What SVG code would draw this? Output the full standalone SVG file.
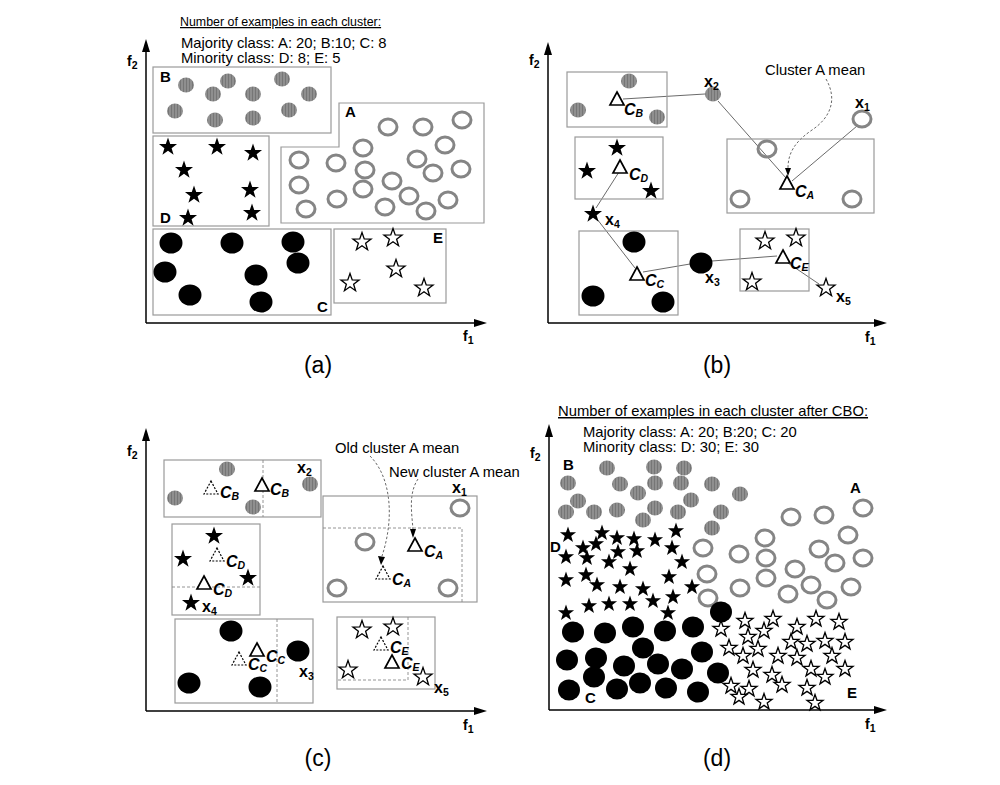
<svg xmlns="http://www.w3.org/2000/svg" xmlns:xlink="http://www.w3.org/1999/xlink" width="1000" height="785" viewBox="0 0 1000 785">
<style>
text{font-family:"Liberation Sans",Arial,sans-serif;fill:#000}
.t{font-size:14.8px}
.ttl{font-size:14.8px;text-decoration:underline}
.ttla{font-size:12.4px;text-decoration:underline}
.cap{font-size:23px}
.lab{font-size:15px;font-weight:bold}
.fl{font-size:14px;font-weight:bold}
.xl{font-size:16px;font-weight:bold}
.cl{font-size:16px;font-weight:bold;font-style:italic}
.sb{font-size:10.5px}
.g{fill:url(#stripe)}
.r{fill:none;stroke:#858585;stroke-width:3}
.k{fill:#000}
.sf{fill:#000}
.sh{fill:#fff;stroke:#000;stroke-width:1.3;stroke-linejoin:miter}
.box{fill:none;stroke:#9a9a9a;stroke-width:1.2}
.dl{fill:none;stroke:#888;stroke-width:0.9;stroke-dasharray:3 2}
.ax{stroke:#000;stroke-width:1.5;fill:none}
.ah{fill:#000}
.tri{fill:#fff;stroke:#000;stroke-width:1.7;stroke-linejoin:miter}
.trd{fill:#fff;stroke:#000;stroke-width:1.2;stroke-dasharray:2 1.5}
.ln{stroke:#444;stroke-width:0.8;fill:none}
.da{stroke:#555;stroke-width:0.9;fill:none;stroke-dasharray:2.5 2}
</style>
<defs>
<pattern id="stripe" width="3" height="10" patternUnits="userSpaceOnUse"><rect width="3" height="10" fill="#8f8f8f"/><rect width="1" height="10" fill="#767676"/></pattern>
<path id="st" d="M0,-9.5 L2.23,-3.07 9.03,-2.94 3.61,1.17 5.58,7.69 0,3.8 -5.58,7.69 -3.61,1.17 -9.03,-2.94 -2.23,-3.07Z"/>
<path id="st8" d="M0,-8.5 L2,-2.75 8.08,-2.63 3.23,1.05 5,6.88 0,3.4 -5,6.88 -3.23,1.05 -8.08,-2.63 -2,-2.75Z"/>
<path id="tri" d="M0,-7 L7,6 -7,6Z"/>
</defs>
<rect width="1000" height="785" fill="#fff"/>

<!-- ================= PANEL A ================= -->
<g id="panel-a">
<g id="a-axes">
<line class="ax" x1="146" y1="323" x2="146" y2="50"/><polygon class="ah" points="146,39 142,52 150,52"/>
<line class="ax" x1="146" y1="323" x2="476" y2="323"/><polygon class="ah" points="487,323 474,319 474,327"/>
<text class="fl" x="127" y="66">f<tspan class="sb" dy="3">2</tspan></text>
<text class="fl" x="463" y="341">f<tspan class="sb" dy="3">1</tspan></text>
</g>
<text class="ttla" x="180" y="26">Number of examples in each cluster:</text>
<text class="t" x="181" y="48">Majority class: A: 20; B:10; C: 8</text>
<text class="t" x="181" y="63">Minority class: D: 8; E: 5</text>
<g id="a-B">
<rect class="box" x="153" y="67" width="178" height="66"/>
<text class="lab" x="160" y="82">B</text>
<ellipse class="g" cx="186" cy="85" rx="8" ry="7.5"/><ellipse class="g" cx="228" cy="81" rx="8" ry="7.5"/>
<ellipse class="g" cx="213" cy="94" rx="8" ry="7.5"/><ellipse class="g" cx="253" cy="94" rx="8" ry="7.5"/>
<ellipse class="g" cx="282" cy="79" rx="8" ry="7.5"/><ellipse class="g" cx="309" cy="94" rx="8" ry="7.5"/>
<ellipse class="g" cx="175" cy="111" rx="8" ry="7.5"/><ellipse class="g" cx="215" cy="120" rx="8" ry="7.5"/>
<ellipse class="g" cx="253" cy="118" rx="8" ry="7.5"/><ellipse class="g" cx="289" cy="110" rx="8" ry="7.5"/>
</g>
<g id="a-A">
<polygon class="box" points="281,223 281,147 339,147 339,103 484,103 484,223"/>
<text class="lab" x="345" y="117">A</text>
<ellipse class="r" cx="388" cy="127" rx="9" ry="8"/><ellipse class="r" cx="423" cy="127" rx="9" ry="8"/>
<ellipse class="r" cx="462" cy="120" rx="9" ry="8"/><ellipse class="r" cx="363" cy="148" rx="9" ry="8"/>
<ellipse class="r" cx="445" cy="145" rx="9" ry="8"/><ellipse class="r" cx="299" cy="160" rx="9" ry="8"/>
<ellipse class="r" cx="336" cy="163" rx="9" ry="8"/><ellipse class="r" cx="365" cy="170" rx="9" ry="8"/>
<ellipse class="r" cx="417" cy="159" rx="9" ry="8"/><ellipse class="r" cx="433" cy="173" rx="9" ry="8"/>
<ellipse class="r" cx="461" cy="169" rx="9" ry="8"/><ellipse class="r" cx="299" cy="185" rx="9" ry="8"/>
<ellipse class="r" cx="363" cy="189" rx="9" ry="8"/><ellipse class="r" cx="392" cy="181" rx="9" ry="8"/>
<ellipse class="r" cx="409" cy="196" rx="9" ry="8"/><ellipse class="r" cx="448" cy="200" rx="9" ry="8"/>
<ellipse class="r" cx="306" cy="209" rx="9" ry="8"/><ellipse class="r" cx="337" cy="199" rx="9" ry="8"/>
<ellipse class="r" cx="385" cy="207" rx="9" ry="8"/><ellipse class="r" cx="426" cy="211" rx="9" ry="8"/>
</g>
<g id="a-D">
<rect class="box" x="153" y="136" width="116" height="90"/>
<text class="lab" x="160" y="223">D</text>
<use href="#st" x="168" y="147" class="sf"/><use href="#st" x="217" y="147" class="sf"/>
<use href="#st" x="253" y="153" class="sf"/><use href="#st" x="184" y="170" class="sf"/>
<use href="#st" x="194" y="195" class="sf"/><use href="#st" x="250" y="190" class="sf"/>
<use href="#st" x="188" y="218" class="sf"/><use href="#st" x="252" y="213" class="sf"/>
</g>
<g id="a-C">
<rect class="box" x="153" y="229" width="178" height="86"/>
<text class="lab" x="317" y="312">C</text>
<ellipse class="k" cx="171" cy="243" rx="11.5" ry="10.5"/><ellipse class="k" cx="232" cy="243" rx="11.5" ry="10.5"/>
<ellipse class="k" cx="293" cy="242" rx="11.5" ry="10.5"/><ellipse class="k" cx="165" cy="272" rx="11.5" ry="10.5"/>
<ellipse class="k" cx="298" cy="263" rx="11.5" ry="10.5"/><ellipse class="k" cx="256" cy="275" rx="11.5" ry="10.5"/>
<ellipse class="k" cx="190" cy="295" rx="11.5" ry="10.5"/><ellipse class="k" cx="261" cy="302" rx="11.5" ry="10.5"/>
</g>
<g id="a-E">
<rect class="box" x="334" y="229" width="112" height="74"/>
<text class="lab" x="433" y="243">E</text>
<use href="#st" x="362" y="242" class="sh"/><use href="#st" x="393" y="238" class="sh"/>
<use href="#st" x="396" y="269" class="sh"/><use href="#st" x="350" y="283" class="sh"/>
<use href="#st" x="424" y="288" class="sh"/>
</g>
<text class="cap" x="318" y="373" text-anchor="middle">(a)</text>
</g>

<!-- ================= PANEL B ================= -->
<g id="panel-b">
<g id="b-axes">
<line class="ax" x1="548" y1="323" x2="548" y2="53"/><polygon class="ah" points="548,42 544,55 552,55"/>
<line class="ax" x1="548" y1="323" x2="876" y2="323"/><polygon class="ah" points="887,323 874,319 874,327"/>
<text class="fl" x="529" y="65">f<tspan class="sb" dy="3">2</tspan></text>
<text class="fl" x="865" y="342">f<tspan class="sb" dy="3">1</tspan></text>
</g>
<g id="b-connectors">
<line class="ln" x1="623" y1="99" x2="705" y2="94"/>
<line class="ln" x1="718" y1="101" x2="786" y2="178"/>
<line class="ln" x1="857" y1="126" x2="792" y2="181"/>
<line class="ln" x1="619" y1="172" x2="596" y2="208"/>
<line class="ln" x1="597" y1="219" x2="635" y2="268"/>
<line class="ln" x1="643" y1="272" x2="690" y2="264"/>
<line class="ln" x1="712" y1="261" x2="777" y2="256"/>
<line class="ln" x1="785" y1="261" x2="819" y2="284"/>
<path class="da" d="M826,79 C838,100 830,118 812,130 C796,141 788,152 788,168"/>
<polygon class="ah" points="788,176 785,168 791,168"/>
</g>
<text class="t" x="765" y="75">Cluster A mean</text>
<g id="b-B">
<rect class="box" x="567" y="72" width="100" height="55"/>
<ellipse class="g" cx="629" cy="81" rx="8" ry="7.5"/><ellipse class="g" cx="578" cy="110" rx="8" ry="7.5"/>
<ellipse class="g" cx="657" cy="117" rx="8" ry="7.5"/>
<use href="#tri" x="617" y="99" class="tri"/>
<text class="cl" x="624" y="115">C<tspan class="sb" dy="2">B</tspan></text>
</g>
<g id="b-x2">
<ellipse class="g" cx="713" cy="94" rx="8" ry="7.5"/>
<text class="xl" x="704" y="87">x<tspan class="sb" dy="3">2</tspan></text>
</g>
<g id="b-A">
<rect class="box" x="727" y="139" width="147" height="74"/>
<ellipse class="r" cx="767" cy="149" rx="9" ry="8"/><ellipse class="r" cx="740" cy="199" rx="9" ry="8"/>
<ellipse class="r" cx="852" cy="199" rx="9" ry="8"/>
<use href="#tri" x="787" y="183" class="tri"/>
<text class="cl" x="795" y="197">C<tspan class="sb" dy="2">A</tspan></text>
</g>
<g id="b-x1">
<ellipse class="r" cx="862" cy="119" rx="9" ry="8"/>
<text class="xl" x="855" y="108">x<tspan class="sb" dy="3">1</tspan></text>
</g>
<g id="b-D">
<rect class="box" x="575" y="137" width="88" height="62"/>
<use href="#st" x="617" y="148" class="sf"/><use href="#st" x="587" y="171" class="sf"/>
<use href="#st" x="651" y="191" class="sf"/>
<use href="#tri" x="620" y="167" class="tri"/>
<text class="cl" x="629" y="180">C<tspan class="sb" dy="2">D</tspan></text>
</g>
<g id="b-x4">
<use href="#st" x="593" y="214" class="sf"/>
<text class="xl" x="605" y="225">x<tspan class="sb" dy="3">4</tspan></text>
</g>
<g id="b-C">
<rect class="box" x="579" y="231" width="99" height="84"/>
<ellipse class="k" cx="634" cy="242" rx="11.5" ry="10.5"/><ellipse class="k" cx="593" cy="296" rx="11.5" ry="10.5"/>
<ellipse class="k" cx="663" cy="302" rx="11.5" ry="10.5"/>
<use href="#tri" x="637" y="274" class="tri"/>
<text class="cl" x="645" y="286">C<tspan class="sb" dy="2">C</tspan></text>
</g>
<g id="b-x3">
<ellipse class="k" cx="701" cy="263" rx="11.5" ry="10.5"/>
<text class="xl" x="705" y="283">x<tspan class="sb" dy="3">3</tspan></text>
</g>
<g id="b-E">
<rect class="box" x="740" y="229" width="69" height="62"/>
<use href="#st" x="765" y="241" class="sh"/><use href="#st" x="796" y="238" class="sh"/>
<use href="#st" x="752" y="282" class="sh"/>
<use href="#tri" x="783" y="257" class="tri"/>
<text class="cl" x="790" y="269">C<tspan class="sb" dy="2">E</tspan></text>
</g>
<g id="b-x5">
<use href="#st" x="826" y="288" class="sh"/>
<text class="xl" x="836" y="302">x<tspan class="sb" dy="3">5</tspan></text>
</g>
<text class="cap" x="717" y="373" text-anchor="middle">(b)</text>
</g>

<!-- ================= PANEL C ================= -->
<g id="panel-c">
<g id="c-axes">
<line class="ax" x1="146" y1="711" x2="146" y2="439"/><polygon class="ah" points="146,428 142,441 150,441"/>
<line class="ax" x1="146" y1="711" x2="476" y2="711"/><polygon class="ah" points="487,711 474,707 474,715"/>
<text class="fl" x="127" y="456">f<tspan class="sb" dy="3">2</tspan></text>
<text class="fl" x="463" y="730">f<tspan class="sb" dy="3">1</tspan></text>
</g>
<g id="c-connectors">
<path class="da" d="M370,456 C392,478 394,520 382,556"/>
<polygon class="ah" points="381,565 378,556 385,557"/>
<path class="da" d="M418,479 C408,494 412,514 413,530"/>
<polygon class="ah" points="413,538 410,529 416,529"/>
</g>
<text class="t" x="335" y="453">Old cluster A mean</text>
<text class="t" x="389" y="477">New cluster A mean</text>
<g id="c-B">
<rect class="box" x="164" y="460" width="157" height="57"/>
<line class="dl" x1="263" y1="460" x2="263" y2="517"/>
<ellipse class="g" cx="227" cy="469" rx="8" ry="7.5"/><ellipse class="g" cx="175" cy="498" rx="8" ry="7.5"/>
<ellipse class="g" cx="253" cy="507" rx="8" ry="7.5"/><ellipse class="g" cx="310" cy="484" rx="8" ry="7.5"/>
<use href="#tri" x="211" y="488" class="trd"/>
<text class="cl" x="220" y="498">C<tspan class="sb" dy="2">B</tspan></text>
<use href="#tri" x="262" y="485" class="tri"/>
<text class="cl" x="270" y="495">C<tspan class="sb" dy="2">B</tspan></text>
<text class="xl" x="297" y="473">x<tspan class="sb" dy="3">2</tspan></text>
</g>
<g id="c-D">
<rect class="box" x="172" y="524" width="88" height="91"/>
<line class="dl" x1="172" y1="587" x2="260" y2="587"/>
<use href="#st" x="214" y="536" class="sf"/><use href="#st" x="183" y="559" class="sf"/>
<use href="#st" x="248" y="578" class="sf"/><use href="#st" x="191" y="603" class="sf"/>
<use href="#tri" x="217" y="555" class="trd"/>
<text class="cl" x="226" y="567">C<tspan class="sb" dy="2">D</tspan></text>
<use href="#tri" x="204" y="583" class="tri"/>
<text class="cl" x="213" y="595">C<tspan class="sb" dy="2">D</tspan></text>
<text class="xl" x="202" y="612">x<tspan class="sb" dy="3">4</tspan></text>
</g>
<g id="c-C">
<rect class="box" x="175" y="619" width="138" height="84"/>
<line class="dl" x1="277" y1="619" x2="277" y2="703"/>
<ellipse class="k" cx="231" cy="631" rx="11.5" ry="10.5"/><ellipse class="k" cx="189" cy="683" rx="11.5" ry="10.5"/>
<ellipse class="k" cx="260" cy="687" rx="11.5" ry="10.5"/><ellipse class="k" cx="298" cy="651" rx="11.5" ry="10.5"/>
<use href="#tri" x="257" y="650" class="tri"/>
<text class="cl" x="266" y="662">C<tspan class="sb" dy="2">C</tspan></text>
<use href="#tri" x="239" y="659" class="trd"/>
<text class="cl" x="248" y="670">C<tspan class="sb" dy="2">C</tspan></text>
<text class="xl" x="299" y="677">x<tspan class="sb" dy="3">3</tspan></text>
</g>
<g id="c-A">
<rect class="box" x="323" y="496" width="154" height="106"/>
<path class="dl" d="M323,528 H462 V602"/>
<ellipse class="r" cx="460" cy="508" rx="9" ry="8"/><ellipse class="r" cx="365" cy="542" rx="9" ry="8"/>
<ellipse class="r" cx="337" cy="588" rx="9" ry="8"/><ellipse class="r" cx="448" cy="588" rx="9" ry="8"/>
<text class="xl" x="452" y="493">x<tspan class="sb" dy="3">1</tspan></text>
<use href="#tri" x="415" y="545" class="tri"/>
<text class="cl" x="424" y="557">C<tspan class="sb" dy="2">A</tspan></text>
<use href="#tri" x="383" y="573" class="trd"/>
<text class="cl" x="392" y="585">C<tspan class="sb" dy="2">A</tspan></text>
</g>
<g id="c-E">
<rect class="box" x="337" y="617" width="98" height="72"/>
<path class="dl" d="M408,617 V680 H337"/>
<use href="#st" x="362" y="630" class="sh"/><use href="#st" x="393" y="627" class="sh"/>
<use href="#st" x="348" y="670" class="sh"/><use href="#st" x="423" y="677" class="sh"/>
<use href="#tri" x="381" y="644" class="trd"/>
<text class="cl" x="390" y="653">C<tspan class="sb" dy="2">E</tspan></text>
<use href="#tri" x="392" y="662" class="tri"/>
<text class="cl" x="401" y="669">C<tspan class="sb" dy="2">E</tspan></text>
<text class="xl" x="434" y="693">x<tspan class="sb" dy="3">5</tspan></text>
</g>
<text class="cap" x="318" y="766" text-anchor="middle">(c)</text>
</g>

<!-- ================= PANEL D ================= -->
<g id="panel-d">
<g id="d-axes">
<line class="ax" x1="549" y1="710" x2="549" y2="435"/><polygon class="ah" points="549,424 545,437 553,437"/>
<line class="ax" x1="549" y1="710" x2="876" y2="710"/><polygon class="ah" points="887,710 874,706 874,714"/>
<text class="fl" x="530" y="458">f<tspan class="sb" dy="3">2</tspan></text>
<text class="fl" x="865" y="729">f<tspan class="sb" dy="3">1</tspan></text>
</g>
<text class="ttl" x="558" y="416">Number of examples in each cluster after CBO:</text>
<text class="t" x="583" y="437">Majority class: A: 20; B:20; C: 20</text>
<text class="t" x="583" y="452">Minority class: D: 30; E: 30</text>
<g id="d-B">
<text class="lab" x="563" y="470">B</text>
<ellipse class="g" cx="607" cy="468" rx="8" ry="7.5"/><ellipse class="g" cx="654" cy="467" rx="8" ry="7.5"/>
<ellipse class="g" cx="684" cy="468" rx="8" ry="7.5"/><ellipse class="g" cx="568" cy="483" rx="8" ry="7.5"/>
<ellipse class="g" cx="620" cy="484" rx="8" ry="7.5"/><ellipse class="g" cx="655" cy="483" rx="8" ry="7.5"/>
<ellipse class="g" cx="681" cy="483" rx="8" ry="7.5"/><ellipse class="g" cx="712" cy="484" rx="8" ry="7.5"/>
<ellipse class="g" cx="578" cy="501" rx="8" ry="7.5"/><ellipse class="g" cx="638" cy="493" rx="8" ry="7.5"/>
<ellipse class="g" cx="691" cy="500" rx="8" ry="7.5"/><ellipse class="g" cx="740" cy="494" rx="8" ry="7.5"/>
<ellipse class="g" cx="566" cy="512" rx="8" ry="7.5"/><ellipse class="g" cx="594" cy="512" rx="8" ry="7.5"/>
<ellipse class="g" cx="617" cy="510" rx="8" ry="7.5"/><ellipse class="g" cx="655" cy="508" rx="8" ry="7.5"/>
<ellipse class="g" cx="678" cy="512" rx="8" ry="7.5"/><ellipse class="g" cx="721" cy="512" rx="8" ry="7.5"/>
<ellipse class="g" cx="643" cy="520" rx="8" ry="7.5"/><ellipse class="g" cx="712" cy="528" rx="8" ry="7.5"/>
</g>
<g id="d-A">
<text class="lab" x="850" y="493">A</text>
<ellipse class="r" cx="791" cy="517" rx="9" ry="8"/><ellipse class="r" cx="824" cy="515" rx="9" ry="8"/>
<ellipse class="r" cx="863" cy="508" rx="9" ry="8"/><ellipse class="r" cx="765" cy="538" rx="9" ry="8"/>
<ellipse class="r" cx="848" cy="535" rx="9" ry="8"/><ellipse class="r" cx="703" cy="548" rx="9" ry="8"/>
<ellipse class="r" cx="739" cy="554" rx="9" ry="8"/><ellipse class="r" cx="766" cy="558" rx="9" ry="8"/>
<ellipse class="r" cx="819" cy="549" rx="9" ry="8"/><ellipse class="r" cx="835" cy="563" rx="9" ry="8"/>
<ellipse class="r" cx="863" cy="558" rx="9" ry="8"/><ellipse class="r" cx="707" cy="574" rx="9" ry="8"/>
<ellipse class="r" cx="766" cy="578" rx="9" ry="8"/><ellipse class="r" cx="795" cy="569" rx="9" ry="8"/>
<ellipse class="r" cx="811" cy="585" rx="9" ry="8"/><ellipse class="r" cx="851" cy="587" rx="9" ry="8"/>
<ellipse class="r" cx="708" cy="598" rx="9" ry="8"/><ellipse class="r" cx="740" cy="588" rx="9" ry="8"/>
<ellipse class="r" cx="788" cy="594" rx="9" ry="8"/><ellipse class="r" cx="827" cy="600" rx="9" ry="8"/>
</g>
<g id="d-D">
<text class="lab" x="550" y="552">D</text>
<use href="#st8" x="568" y="535" class="sf"/><use href="#st8" x="602" y="533" class="sf"/>
<use href="#st8" x="617" y="538" class="sf"/><use href="#st8" x="634" y="539" class="sf"/>
<use href="#st8" x="655" y="540" class="sf"/><use href="#st8" x="676" y="531" class="sf"/>
<use href="#st8" x="583" y="548" class="sf"/><use href="#st8" x="596" y="544" class="sf"/>
<use href="#st8" x="618" y="552" class="sf"/><use href="#st8" x="637" y="551" class="sf"/>
<use href="#st8" x="672" y="548" class="sf"/><use href="#st8" x="566" y="557" class="sf"/>
<use href="#st8" x="587" y="558" class="sf"/><use href="#st8" x="609" y="562" class="sf"/>
<use href="#st8" x="630" y="569" class="sf"/><use href="#st8" x="682" y="562" class="sf"/>
<use href="#st8" x="586" y="575" class="sf"/><use href="#st8" x="566" y="580" class="sf"/>
<use href="#st8" x="597" y="585" class="sf"/><use href="#st8" x="620" y="587" class="sf"/>
<use href="#st8" x="643" y="589" class="sf"/><use href="#st8" x="669" y="577" class="sf"/>
<use href="#st8" x="692" y="587" class="sf"/><use href="#st8" x="673" y="597" class="sf"/>
<use href="#st8" x="589" y="606" class="sf"/><use href="#st8" x="609" y="604" class="sf"/>
<use href="#st8" x="630" y="604" class="sf"/><use href="#st8" x="653" y="601" class="sf"/>
<use href="#st8" x="668" y="613" class="sf"/><use href="#st8" x="566" y="613" class="sf"/>
</g>
<g id="d-C">
<text class="lab" x="585" y="703">C</text>
<ellipse class="k" cx="573" cy="632" rx="11" ry="10.5"/><ellipse class="k" cx="605" cy="633" rx="11" ry="10.5"/>
<ellipse class="k" cx="633" cy="627" rx="11" ry="10.5"/><ellipse class="k" cx="665" cy="631" rx="11" ry="10.5"/>
<ellipse class="k" cx="693" cy="627" rx="11" ry="10.5"/><ellipse class="k" cx="721" cy="612" rx="11" ry="10.5"/>
<ellipse class="k" cx="643" cy="648" rx="11" ry="10.5"/><ellipse class="k" cx="702" cy="652" rx="11" ry="10.5"/>
<ellipse class="k" cx="567" cy="660" rx="11" ry="10.5"/><ellipse class="k" cx="596" cy="658" rx="11" ry="10.5"/>
<ellipse class="k" cx="624" cy="666" rx="11" ry="10.5"/><ellipse class="k" cx="658" cy="664" rx="11" ry="10.5"/>
<ellipse class="k" cx="682" cy="669" rx="11" ry="10.5"/><ellipse class="k" cx="718" cy="673" rx="11" ry="10.5"/>
<ellipse class="k" cx="594" cy="677" rx="11" ry="10.5"/><ellipse class="k" cx="640" cy="683" rx="11" ry="10.5"/>
<ellipse class="k" cx="569" cy="690" rx="11" ry="10.5"/><ellipse class="k" cx="617" cy="689" rx="11" ry="10.5"/>
<ellipse class="k" cx="666" cy="688" rx="11" ry="10.5"/><ellipse class="k" cx="698" cy="692" rx="11" ry="10.5"/>
</g>
<g id="d-E">
<text class="lab" x="847" y="698">E</text>
<use href="#st8" x="745" y="621" class="sh"/><use href="#st8" x="773" y="619" class="sh"/>
<use href="#st8" x="816" y="619" class="sh"/><use href="#st8" x="839" y="622" class="sh"/>
<use href="#st8" x="797" y="627" class="sh"/><use href="#st8" x="764" y="631" class="sh"/>
<use href="#st8" x="721" y="629" class="sh"/><use href="#st8" x="748" y="637" class="sh"/>
<use href="#st8" x="791" y="642" class="sh"/><use href="#st8" x="807" y="644" class="sh"/>
<use href="#st8" x="825" y="641" class="sh"/><use href="#st8" x="845" y="642" class="sh"/>
<use href="#st8" x="729" y="648" class="sh"/><use href="#st8" x="758" y="649" class="sh"/>
<use href="#st8" x="743" y="656" class="sh"/><use href="#st8" x="778" y="656" class="sh"/>
<use href="#st8" x="797" y="658" class="sh"/><use href="#st8" x="832" y="656" class="sh"/>
<use href="#st8" x="753" y="670" class="sh"/><use href="#st8" x="811" y="669" class="sh"/>
<use href="#st8" x="845" y="669" class="sh"/><use href="#st8" x="772" y="675" class="sh"/>
<use href="#st8" x="825" y="677" class="sh"/><use href="#st8" x="731" y="686" class="sh"/>
<use href="#st8" x="782" y="685" class="sh"/><use href="#st8" x="807" y="688" class="sh"/>
<use href="#st8" x="749" y="689" class="sh"/><use href="#st8" x="739" y="697" class="sh"/>
<use href="#st8" x="764" y="702" class="sh"/><use href="#st8" x="815" y="703" class="sh"/>
</g>
<text class="cap" x="717" y="766" text-anchor="middle">(d)</text>
</g>
</svg>
